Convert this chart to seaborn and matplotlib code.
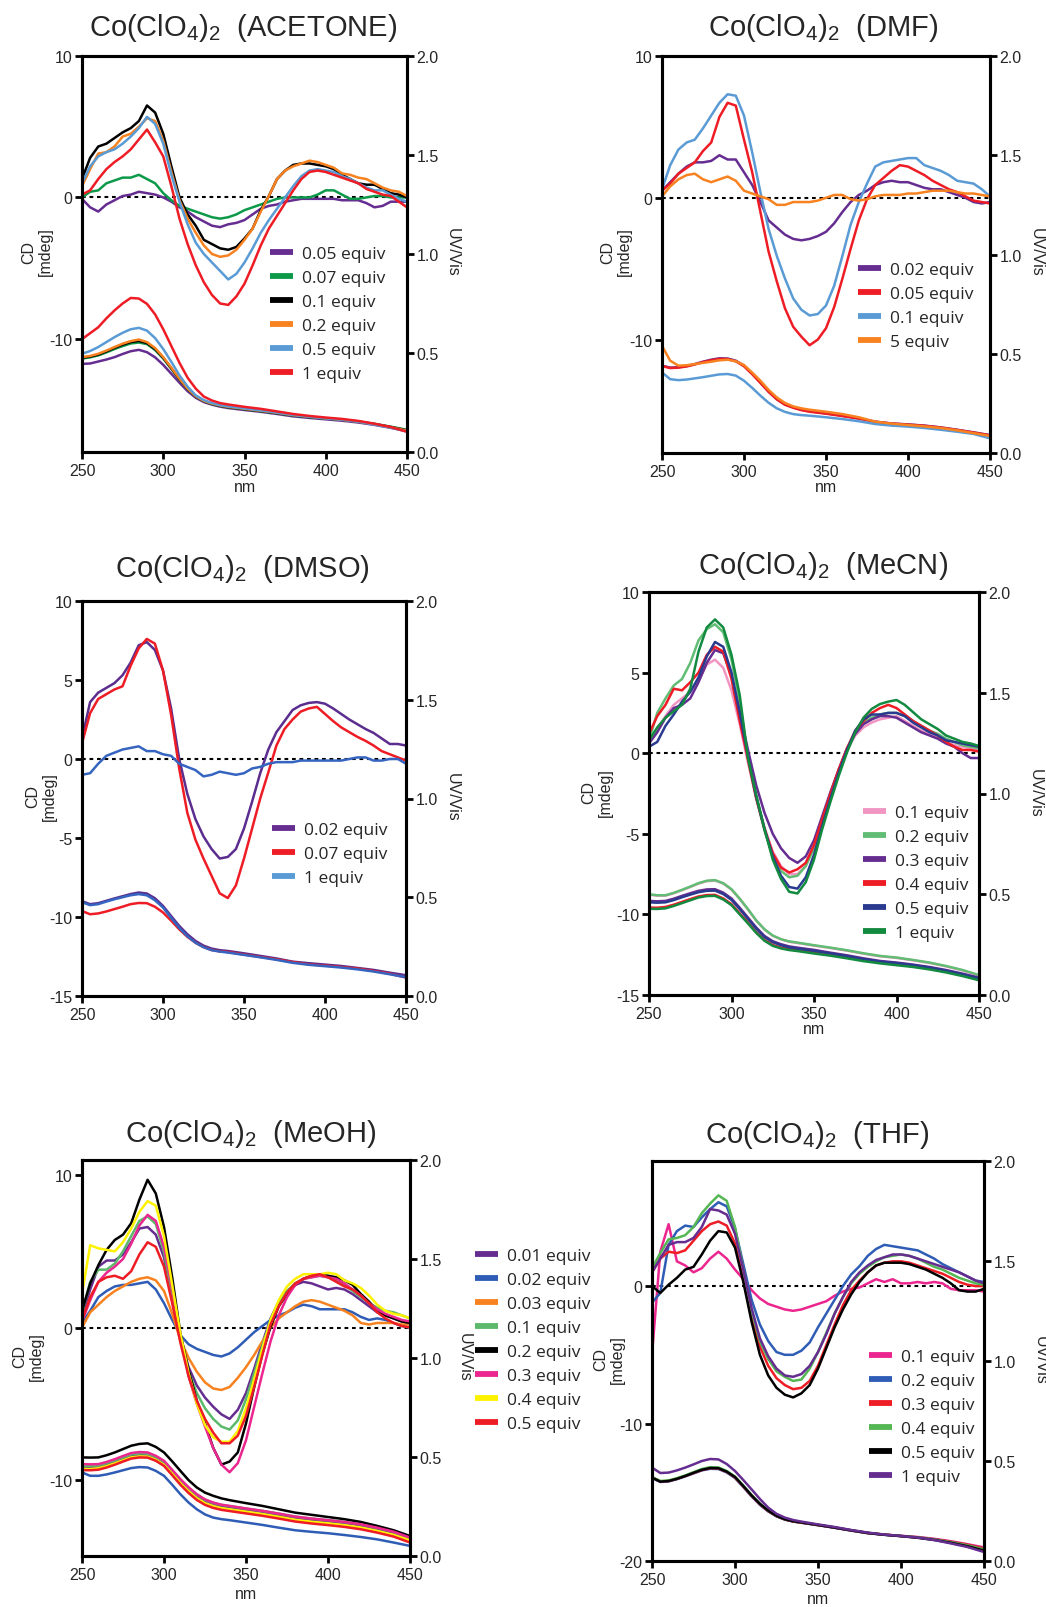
import numpy as np
import matplotlib
matplotlib.use("Agg")
import matplotlib.pyplot as plt
import seaborn as sns
from matplotlib.lines import Line2D

W, H = 1046, 1608
sns.set_style("ticks")
plt.rcParams['font.family'] = ['Liberation Sans', 'DejaVu Sans']
plt.rcParams['axes.unicode_minus'] = False
plt.rcParams['mathtext.fontset'] = 'custom'
plt.rcParams['mathtext.rm'] = 'Liberation Sans'
plt.rcParams['mathtext.default'] = 'regular'

# ---------------- wavelength grids ----------------
WL_CD = np.arange(250, 451, 5)
WL_UV = np.concatenate([np.arange(250, 341, 5), np.arange(350, 451, 10)])

# ---------------- ACETONE ----------------
AC_LABELS = ["0.05 equiv", "0.07 equiv", "0.1 equiv", "0.2 equiv", "0.5 equiv", "1 equiv"]
AC_CD_005 = [-0.1, -0.7, -1.0, -0.5, -0.2, 0.1, 0.2, 0.4, 0.3, 0.2,
             0.0, -0.3, -0.7, -1.0, -1.4, -1.7, -2.0, -2.1, -1.9, -1.8,
             -1.6, -1.2, -0.8, -0.6, -0.5, -0.3, -0.2, -0.1, -0.1, -0.1,
             -0.1, -0.1, -0.2, -0.2, -0.2, -0.4, -0.7, -0.6, -0.3, -0.3, -0.3]
AC_CD_007 = [0.0, 0.4, 0.5, 1.0, 1.2, 1.4, 1.4, 1.6, 1.3, 1.0,
             0.3, -0.2, -0.6, -0.8, -1.0, -1.2, -1.4, -1.5, -1.4, -1.2,
             -0.9, -0.7, -0.5, -0.3, -0.1, 0.0, 0.0, 0.0, 0.0, 0.2,
             0.5, 0.5, 0.2, -0.1, -0.1, 0.0, 0.1, 0.1, 0.0, 0.0, 0.0]
AC_CD_01 = [1.3, 2.8, 3.6, 3.8, 4.2, 4.6, 4.9, 5.4, 6.5, 6.0,
            4.5, 2.2, 0.0, -1.2, -2.0, -3.0, -3.3, -3.6, -3.7, -3.5,
            -2.9, -2.2, -0.9, 0.1, 1.3, 1.9, 2.3, 2.4, 2.4, 2.3,
            2.2, 2.0, 1.6, 1.3, 1.0, 0.9, 0.9, 0.6, 0.3, 0.2, 0.0]
AC_CD_02 = [0.8, 2.0, 3.1, 3.2, 3.6, 4.3, 4.5, 5.0, 5.6, 5.4,
            4.0, 1.8, -0.2, -1.5, -2.5, -3.4, -4.0, -4.2, -4.1, -3.7,
            -3.0, -2.2, -1.0, 0.1, 1.3, 1.9, 2.2, 2.4, 2.6, 2.5,
            2.3, 2.1, 1.7, 1.6, 1.4, 1.3, 1.0, 0.7, 0.5, 0.4, 0.1]
AC_CD_05 = [1.0, 2.2, 2.9, 3.2, 3.4, 3.8, 4.3, 4.9, 5.7, 5.2,
            3.8, 1.6, -0.3, -1.9, -3.2, -4.0, -4.6, -5.2, -5.8, -5.4,
            -4.6, -3.6, -2.5, -1.6, -0.8, 0.0, 0.8, 1.5, 1.9, 2.0,
            1.9, 1.8, 1.5, 1.3, 1.0, 0.7, 0.5, 0.5, 0.2, -0.1, -0.3]
AC_CD_1 = [0.2, 0.5, 1.3, 2.0, 2.5, 2.9, 3.4, 4.1, 4.8, 3.9,
           2.9, 0.8, -1.5, -3.3, -4.8, -6.0, -6.9, -7.5, -7.6, -7.0,
           -6.1, -4.8, -3.4, -2.2, -1.3, -0.4, 0.5, 1.3, 1.8, 1.9,
           1.8, 1.6, 1.4, 1.2, 1.0, 0.6, 0.4, 0.2, 0.1, -0.3, -0.7]
AC_UV_005 = [0.445, 0.447, 0.457, 0.467, 0.479, 0.495, 0.509, 0.516, 0.504, 0.478,
             0.44, 0.395, 0.35, 0.307, 0.274, 0.252, 0.239, 0.229, 0.222,
             0.212, 0.203, 0.192, 0.18, 0.172, 0.165, 0.158, 0.149, 0.137, 0.122, 0.106]
AC_UV_007 = [0.472, 0.478, 0.488, 0.503, 0.52, 0.535, 0.548, 0.553, 0.545, 0.515,
             0.472, 0.42, 0.366, 0.318, 0.28, 0.257, 0.242, 0.233, 0.226,
             0.216, 0.206, 0.196, 0.184, 0.176, 0.169, 0.163, 0.154, 0.142, 0.128, 0.112]
AC_UV_01 = [0.476, 0.482, 0.492, 0.508, 0.526, 0.542, 0.555, 0.561, 0.55, 0.52,
            0.476, 0.422, 0.368, 0.319, 0.281, 0.258, 0.243, 0.234, 0.227,
            0.217, 0.207, 0.197, 0.185, 0.177, 0.17, 0.163, 0.153, 0.141, 0.126, 0.109]
AC_UV_02 = [0.479, 0.485, 0.496, 0.512, 0.53, 0.547, 0.56, 0.568, 0.555, 0.525,
            0.479, 0.425, 0.37, 0.32, 0.282, 0.258, 0.244, 0.235, 0.228,
            0.218, 0.208, 0.198, 0.186, 0.178, 0.17, 0.163, 0.153, 0.14, 0.125, 0.108]
AC_UV_05 = [0.496, 0.51, 0.53, 0.555, 0.58, 0.602, 0.62, 0.627, 0.613, 0.575,
            0.52, 0.455, 0.387, 0.33, 0.286, 0.262, 0.247, 0.237, 0.23,
            0.22, 0.21, 0.199, 0.187, 0.178, 0.17, 0.163, 0.153, 0.139, 0.123, 0.103]
AC_UV_1 = [0.57, 0.6, 0.63, 0.675, 0.715, 0.75, 0.778, 0.775, 0.748, 0.695,
           0.62, 0.535, 0.45, 0.375, 0.32, 0.28, 0.26, 0.247, 0.24,
           0.228, 0.218, 0.205, 0.192, 0.182, 0.174, 0.167, 0.157, 0.143, 0.126, 0.102]

# ---------------- DMF ----------------
DMF_LABELS = ["0.02 equiv", "0.05 equiv", "0.1 equiv", "5 equiv"]
DMF_CD_002 = [0.5, 1.1, 1.7, 2.2, 2.5, 2.5, 2.6, 3.0, 2.7, 2.7,
              1.8, 0.9, -0.3, -1.6, -2.1, -2.6, -2.9, -3.0, -2.9, -2.7,
              -2.4, -1.8, -1.0, -0.3, 0.2, 0.5, 0.9, 1.1, 1.2, 1.1,
              1.1, 0.9, 0.7, 0.6, 0.6, 0.4, 0.2, 0.0, -0.3, -0.4, -0.3]
DMF_CD_005 = [0.5, 1.0, 1.7, 2.1, 2.5, 3.3, 3.9, 5.7, 6.7, 6.5,
              4.1, 1.8, -1.0, -3.8, -5.9, -7.8, -9.1, -9.8, -10.4, -10.0,
              -9.2, -7.7, -5.7, -3.6, -1.6, -0.1, 0.9, 1.4, 1.9, 2.3,
              2.2, 1.9, 1.6, 1.2, 0.9, 0.6, 0.4, 0.1, -0.2, -0.3, -0.4]
DMF_CD_01 = [0.6, 2.3, 3.4, 3.9, 4.1, 4.9, 5.8, 6.7, 7.3, 7.2,
             5.8, 3.2, 0.4, -2.2, -4.1, -5.7, -7.1, -7.9, -8.3, -8.2,
             -7.6, -6.2, -4.1, -1.9, -0.3, 1.0, 2.2, 2.5, 2.6, 2.7,
             2.8, 2.8, 2.3, 2.1, 1.9, 1.6, 1.2, 1.1, 1.0, 0.6, 0.1]
DMF_CD_5 = [0.1, 0.8, 1.3, 1.6, 1.7, 1.3, 1.1, 1.3, 1.5, 1.2,
            0.5, 0.3, 0.1, -0.1, -0.5, -0.5, -0.3, -0.3, -0.3, -0.2,
            0.0, 0.2, 0.2, -0.1, -0.2, -0.1, 0.1, 0.2, 0.2, 0.2,
            0.3, 0.3, 0.4, 0.5, 0.5, 0.5, 0.4, 0.3, 0.3, 0.2, 0.1]
DMF_UV_002 = [0.44, 0.43, 0.432, 0.438, 0.448, 0.46, 0.47, 0.477, 0.476, 0.465,
              0.44, 0.4, 0.356, 0.31, 0.272, 0.245, 0.23, 0.218, 0.21,
              0.2, 0.188, 0.175, 0.158, 0.149, 0.144, 0.138, 0.129, 0.117, 0.104, 0.09]
DMF_UV_005 = [0.438, 0.428, 0.43, 0.436, 0.446, 0.458, 0.467, 0.474, 0.473, 0.462,
              0.437, 0.397, 0.353, 0.308, 0.27, 0.243, 0.228, 0.216, 0.208,
              0.198, 0.186, 0.173, 0.157, 0.148, 0.143, 0.137, 0.128, 0.116, 0.103, 0.089]
DMF_UV_01 = [0.406, 0.372, 0.367, 0.37, 0.376, 0.382, 0.389, 0.396, 0.398, 0.39,
             0.364, 0.328, 0.289, 0.253, 0.225, 0.207, 0.196, 0.191, 0.188,
             0.18, 0.171, 0.16, 0.146, 0.138, 0.133, 0.126, 0.117, 0.107, 0.096, 0.074]
DMF_UV_5 = [0.54, 0.465, 0.44, 0.442, 0.448, 0.454, 0.46, 0.467, 0.47, 0.462,
            0.443, 0.405, 0.364, 0.318, 0.28, 0.252, 0.235, 0.225, 0.218,
            0.208, 0.196, 0.18, 0.158, 0.148, 0.141, 0.134, 0.126, 0.114, 0.1, 0.086]

# ---------------- DMSO ----------------
DMSO_LABELS = ["0.02 equiv", "0.07 equiv", "1 equiv"]
DMSO_CD_002 = [1.3, 3.6, 4.2, 4.5, 4.8, 5.3, 6.1, 7.2, 7.4, 6.9,
               5.6, 3.2, 0.0, -2.2, -3.8, -4.9, -5.7, -6.3, -6.2, -5.7,
               -4.4, -2.7, -0.9, 0.6, 1.7, 2.4, 3.1, 3.4, 3.55, 3.6,
               3.5, 3.2, 2.85, 2.5, 2.2, 1.9, 1.65, 1.3, 0.95, 0.95, 0.85]
DMSO_CD_007 = [1.0, 2.9, 3.8, 4.1, 4.4, 4.6, 5.9, 7.0, 7.6, 7.3,
               5.6, 2.8, -0.6, -3.4, -5.1, -6.3, -7.4, -8.5, -8.8, -8.0,
               -6.3, -4.4, -2.5, -0.85, 0.85, 1.9, 2.5, 3.0, 3.2, 3.3,
               2.85, 2.4, 2.0, 1.7, 1.4, 1.15, 0.85, 0.5, 0.3, 0.1, -0.1]
DMSO_CD_1 = [-1.0, -0.9, -0.3, 0.2, 0.4, 0.6, 0.7, 0.8, 0.5, 0.5,
             0.3, 0.2, -0.3, -0.5, -0.7, -1.1, -1.0, -0.8, -0.9, -1.0,
             -0.9, -0.6, -0.5, -0.3, -0.2, -0.2, -0.2, -0.1, -0.1, -0.1,
             -0.1, -0.1, -0.1, 0.0, 0.1, 0.1, -0.1, -0.1, 0.0, 0.0, -0.3]
DMSO_UV_002 = [0.48, 0.465, 0.47, 0.482, 0.494, 0.505, 0.516, 0.524, 0.519, 0.495,
               0.456, 0.405, 0.355, 0.313, 0.279, 0.255, 0.24, 0.232, 0.228,
               0.216, 0.203, 0.19, 0.174, 0.166, 0.159, 0.152, 0.142, 0.132, 0.118, 0.105]
DMSO_UV_007 = [0.43, 0.414, 0.418, 0.428, 0.44, 0.452, 0.465, 0.471, 0.47, 0.452,
               0.423, 0.382, 0.338, 0.3, 0.27, 0.248, 0.233, 0.226, 0.223,
               0.21, 0.198, 0.186, 0.172, 0.16, 0.154, 0.147, 0.139, 0.127, 0.113, 0.093]
DMSO_UV_1 = [0.475, 0.46, 0.465, 0.478, 0.49, 0.5, 0.51, 0.516, 0.51, 0.485,
             0.448, 0.396, 0.345, 0.303, 0.27, 0.247, 0.232, 0.225, 0.22,
             0.208, 0.196, 0.183, 0.168, 0.158, 0.151, 0.144, 0.135, 0.124, 0.11, 0.095]

# ---------------- MeCN ----------------
MECN_LABELS = ["0.1 equiv", "0.2 equiv", "0.3 equiv", "0.4 equiv", "0.5 equiv", "1 equiv"]
MECN_CD_01 = [0.8, 1.5, 2.3, 3.0, 3.4, 3.8, 4.5, 5.5, 5.8, 5.3,
              3.9, 1.8, -0.6, -2.8, -4.6, -6.1, -7.0, -7.5, -7.5, -7.0,
              -5.8, -4.1, -2.5, -1.1, 0.2, 1.1, 1.6, 1.9, 2.1, 2.2,
              2.3, 2.0, 1.7, 1.4, 1.2, 1.0, 0.7, 0.5, 0.4, 0.3, 0.2]
MECN_CD_02 = [0.8, 2.5, 3.4, 4.2, 4.6, 5.6, 7.0, 7.7, 8.0, 7.5,
              5.8, 3.2, -0.3, -2.8, -4.8, -6.4, -7.3, -7.7, -7.6, -7.0,
              -5.9, -4.2, -2.6, -1.1, 0.2, 1.3, 1.9, 2.2, 2.4, 2.5,
              2.5, 2.3, 2.0, 1.7, 1.4, 1.2, 0.9, 0.7, 0.5, 0.4, 0.3]
MECN_CD_03 = [0.6, 1.3, 2.2, 2.8, 3.0, 3.4, 4.4, 5.6, 6.4, 6.2,
              4.8, 2.5, 0.2, -2.0, -3.7, -5.0, -5.9, -6.5, -6.8, -6.4,
              -5.4, -3.9, -2.4, -1.0, 0.3, 1.2, 1.8, 2.1, 2.3, 2.3,
              2.2, 1.9, 1.6, 1.3, 1.1, 0.9, 0.6, 0.4, 0.0, -0.3, -0.3]
MECN_CD_04 = [1.2, 2.3, 3.0, 4.0, 3.9, 4.4, 5.0, 6.1, 6.6, 6.3,
              4.6, 2.0, -0.4, -2.8, -4.7, -6.2, -7.1, -7.4, -7.2, -6.8,
              -5.7, -4.1, -2.5, -1.0, 0.3, 1.4, 2.0, 2.5, 2.8, 3.0,
              2.8, 2.4, 2.0, 1.7, 1.4, 1.1, 0.7, 0.4, 0.2, 0.2, 0.1]
MECN_CD_05 = [0.4, 0.7, 1.7, 2.4, 3.2, 3.8, 4.7, 6.0, 6.9, 6.6,
              5.0, 2.5, -0.2, -2.7, -4.7, -6.4, -7.6, -8.3, -8.4, -7.7,
              -6.3, -4.5, -2.8, -1.2, 0.2, 1.4, 2.1, 2.4, 2.4, 2.5,
              2.5, 2.3, 1.9, 1.6, 1.3, 1.1, 0.8, 0.7, 0.6, 0.5, 0.4]
MECN_CD_1 = [0.8, 1.6, 2.2, 2.6, 3.0, 4.0, 6.3, 7.8, 8.3, 7.8,
             6.1, 3.6, -0.3, -2.6, -4.7, -6.6, -7.8, -8.6, -8.7, -8.0,
             -6.6, -4.7, -3.0, -1.4, 0.05, 1.3, 2.2, 2.75, 3.05, 3.2,
             3.3, 3.0, 2.55, 2.1, 1.8, 1.5, 1.1, 0.9, 0.7, 0.6, 0.45]
MECN_UV_01 = [0.498, 0.493, 0.493, 0.505, 0.52, 0.536, 0.553, 0.565, 0.568, 0.553,
              0.523, 0.476, 0.424, 0.369, 0.325, 0.294, 0.276, 0.264, 0.258,
              0.245, 0.233, 0.22, 0.205, 0.192, 0.184, 0.172, 0.159, 0.142, 0.122, 0.097]
MECN_UV_02 = [0.5, 0.495, 0.495, 0.507, 0.522, 0.538, 0.555, 0.567, 0.57, 0.555,
              0.525, 0.478, 0.426, 0.37, 0.326, 0.295, 0.277, 0.266, 0.26,
              0.247, 0.235, 0.222, 0.207, 0.194, 0.186, 0.174, 0.161, 0.144, 0.124, 0.099]
MECN_UV_03 = [0.467, 0.465, 0.467, 0.478, 0.492, 0.505, 0.517, 0.524, 0.525, 0.508,
              0.479, 0.433, 0.384, 0.335, 0.293, 0.267, 0.252, 0.241, 0.235,
              0.224, 0.21, 0.197, 0.182, 0.169, 0.161, 0.151, 0.139, 0.124, 0.106, 0.086]
MECN_UV_04 = [0.434, 0.433, 0.437, 0.448, 0.462, 0.476, 0.489, 0.496, 0.497, 0.479,
              0.451, 0.405, 0.36, 0.312, 0.273, 0.248, 0.235, 0.227, 0.222,
              0.21, 0.199, 0.186, 0.172, 0.161, 0.152, 0.143, 0.131, 0.116, 0.098, 0.078]
MECN_UV_05 = [0.46, 0.458, 0.46, 0.471, 0.485, 0.498, 0.51, 0.517, 0.518, 0.501,
              0.472, 0.426, 0.378, 0.33, 0.288, 0.262, 0.247, 0.236, 0.23,
              0.219, 0.206, 0.193, 0.178, 0.166, 0.158, 0.148, 0.136, 0.121, 0.103, 0.083]
MECN_UV_1 = [0.428, 0.427, 0.43, 0.442, 0.456, 0.47, 0.484, 0.491, 0.492, 0.474,
             0.446, 0.4, 0.355, 0.308, 0.269, 0.244, 0.231, 0.223, 0.218,
             0.206, 0.195, 0.182, 0.168, 0.157, 0.148, 0.139, 0.127, 0.112, 0.094, 0.073]

# ---------------- MeOH ----------------
MEOH_LABELS = ["0.01 equiv", "0.02 equiv", "0.03 equiv", "0.1 equiv",
               "0.2 equiv", "0.3 equiv", "0.4 equiv", "0.5 equiv"]
MEOH_CD_001 = [0.8, 2.5, 4.0, 4.4, 4.4, 4.8, 5.6, 6.5, 6.6, 6.1,
               4.6, 1.8, -0.8, -2.6, -3.8, -4.6, -5.2, -5.7, -6.0, -5.4,
               -4.3, -2.7, -1.0, 0.6, 1.7, 2.4, 2.8, 3.0, 2.9, 2.7,
               2.5, 2.6, 2.5, 2.2, 1.8, 1.4, 1.0, 0.8, 0.6, 0.4, 0.3]
MEOH_CD_002 = [0.3, 1.1, 2.0, 2.4, 2.7, 2.8, 2.8, 2.9, 3.0, 2.5,
               1.6, 0.5, -0.5, -1.1, -1.4, -1.6, -1.8, -1.9, -1.7, -1.3,
               -0.8, -0.3, 0.1, 0.5, 0.8, 1.0, 1.3, 1.5, 1.4, 1.2,
               1.2, 1.2, 1.2, 1.0, 0.7, 0.5, 0.6, 0.5, 0.3, 0.1, 0.0]
MEOH_CD_003 = [0.0, 1.0, 1.5, 2.0, 2.4, 2.7, 3.0, 3.2, 3.3, 3.1,
               2.4, 0.9, -0.8, -2.0, -2.9, -3.6, -4.0, -4.1, -3.9, -3.3,
               -2.6, -1.8, -0.9, 0.0, 0.6, 1.0, 1.4, 1.7, 1.8, 1.7,
               1.5, 1.3, 1.1, 0.8, 0.3, 0.2, 0.3, 0.3, 0.3, 0.2, 0.2]
MEOH_CD_01 = [1.0, 3.0, 3.8, 3.8, 4.2, 5.0, 6.0, 7.0, 7.3, 6.8,
              5.0, 2.0, -0.8, -2.9, -4.3, -5.3, -6.0, -6.5, -6.7, -6.1,
              -4.7, -3.0, -1.2, 0.5, 1.6, 2.4, 2.9, 3.2, 3.3, 3.4,
              3.3, 3.1, 2.8, 2.4, 2.0, 1.6, 1.3, 1.1, 1.0, 0.8, 0.6]
MEOH_CD_02 = [1.1, 2.9, 4.1, 5.1, 5.75, 6.1, 6.85, 8.4, 9.7, 8.8,
              6.6, 3.3, -0.4, -2.8, -4.8, -6.3, -7.9, -9.0, -8.8, -8.2,
              -6.3, -3.9, -1.7, 0.05, 1.4, 2.2, 2.8, 3.2, 3.4, 3.5,
              3.4, 3.3, 3.1, 2.8, 2.2, 1.7, 1.1, 0.8, 0.6, 0.4, 0.3]
MEOH_CD_03 = [0.4, 1.8, 3.0, 3.6, 4.0, 4.5, 5.5, 6.7, 7.4, 7.0,
              5.3, 2.5, -0.6, -3.2, -5.0, -6.5, -7.9, -9.0, -9.5, -8.9,
              -7.4, -5.2, -3.0, -0.9, 0.8, 2.0, 2.8, 3.2, 3.3, 3.4,
              3.3, 3.2, 2.9, 2.5, 2.1, 1.6, 1.2, 0.9, 0.7, 0.5, 0.4]
MEOH_CD_04 = [2.2, 5.4, 5.2, 5.1, 5.0, 5.6, 6.5, 7.6, 8.3, 8.0,
              6.0, 2.8, -0.4, -3.0, -5.0, -6.4, -7.2, -7.5, -7.5, -6.8,
              -5.3, -3.4, -1.4, 0.5, 1.8, 2.7, 3.2, 3.5, 3.5, 3.5,
              3.6, 3.5, 3.1, 2.9, 2.6, 2.1, 1.5, 1.1, 0.9, 0.8, 0.6]
MEOH_CD_05 = [0.5, 2.0, 3.0, 3.3, 3.4, 3.2, 3.7, 4.8, 5.6, 5.3,
              4.0, 1.6, -1.0, -3.2, -4.8, -6.0, -6.9, -7.6, -7.6, -7.1,
              -5.8, -3.9, -1.8, 0.2, 1.4, 2.3, 2.9, 3.2, 3.4, 3.5,
              3.3, 3.0, 2.7, 2.5, 2.1, 1.6, 1.0, 0.6, 0.3, 0.1, 0.0]
MEOH_UV_001 = [0.447, 0.446, 0.45, 0.461, 0.475, 0.49, 0.505, 0.51, 0.508, 0.492,
               0.467, 0.423, 0.375, 0.334, 0.3, 0.275, 0.26, 0.25, 0.244,
               0.232, 0.22, 0.206, 0.191, 0.181, 0.173, 0.164, 0.152, 0.135, 0.115, 0.086]
MEOH_UV_002 = [0.422, 0.405, 0.405, 0.412, 0.422, 0.433, 0.444, 0.449, 0.447, 0.43,
               0.405, 0.36, 0.312, 0.27, 0.236, 0.21, 0.194, 0.186, 0.181,
               0.169, 0.157, 0.143, 0.13, 0.122, 0.115, 0.106, 0.096, 0.084, 0.068, 0.051]
MEOH_UV_003 = [0.437, 0.436, 0.44, 0.451, 0.465, 0.48, 0.495, 0.5, 0.499, 0.483,
               0.457, 0.412, 0.364, 0.322, 0.288, 0.263, 0.248, 0.238, 0.232,
               0.22, 0.208, 0.194, 0.179, 0.169, 0.161, 0.152, 0.14, 0.123, 0.103, 0.075]
MEOH_UV_01 = [0.455, 0.454, 0.457, 0.469, 0.483, 0.498, 0.513, 0.518, 0.517, 0.5,
              0.476, 0.432, 0.385, 0.344, 0.31, 0.284, 0.268, 0.258, 0.252,
              0.24, 0.228, 0.214, 0.199, 0.189, 0.181, 0.172, 0.16, 0.143, 0.123, 0.094]
MEOH_UV_02 = [0.498, 0.497, 0.498, 0.509, 0.523, 0.54, 0.557, 0.566, 0.569, 0.551,
              0.523, 0.478, 0.43, 0.383, 0.346, 0.32, 0.304, 0.291, 0.282,
              0.267, 0.253, 0.236, 0.219, 0.208, 0.197, 0.186, 0.172, 0.152, 0.13, 0.101]
MEOH_UV_03 = [0.464, 0.463, 0.464, 0.475, 0.489, 0.505, 0.52, 0.525, 0.523, 0.506,
              0.481, 0.435, 0.388, 0.347, 0.312, 0.286, 0.27, 0.259, 0.253,
              0.24, 0.228, 0.214, 0.199, 0.189, 0.181, 0.172, 0.16, 0.143, 0.123, 0.093]
MEOH_UV_04 = [0.44, 0.439, 0.443, 0.454, 0.468, 0.483, 0.498, 0.503, 0.502, 0.486,
              0.46, 0.415, 0.368, 0.327, 0.292, 0.267, 0.252, 0.242, 0.236,
              0.224, 0.212, 0.198, 0.183, 0.173, 0.165, 0.156, 0.144, 0.127, 0.107, 0.079]
MEOH_UV_05 = [0.434, 0.433, 0.436, 0.447, 0.461, 0.477, 0.492, 0.498, 0.497, 0.481,
              0.455, 0.408, 0.36, 0.318, 0.283, 0.258, 0.243, 0.233, 0.227,
              0.215, 0.203, 0.189, 0.174, 0.164, 0.156, 0.147, 0.135, 0.118, 0.098, 0.068]

# ---------------- THF ----------------
THF_LABELS = ["0.1 equiv", "0.2 equiv", "0.3 equiv", "0.4 equiv", "0.5 equiv", "1 equiv"]
THF_CD_01 = [-5.0, 2.5, 4.5, 1.8, 1.5, 1.0, 1.3, 2.0, 2.5, 2.0,
             1.2, 0.5, -0.3, -0.9, -1.3, -1.5, -1.7, -1.8, -1.7, -1.5,
             -1.3, -1.1, -0.7, -0.4, -0.2, -0.1, 0.2, 0.5, 0.3, 0.5,
             0.2, 0.2, 0.3, 0.2, 0.3, 0.2, -0.2, -0.3, -0.3, -0.3, -0.4]
THF_CD_02 = [-1.2, -0.5, 3.0, 4.0, 4.4, 4.3, 5.0, 5.6, 6.1, 5.8,
             4.2, 1.6, -1.0, -2.8, -4.0, -4.8, -5.0, -5.0, -4.7, -4.1,
             -3.0, -2.0, -1.0, 0.0, 0.85, 1.45, 2.2, 2.7, 3.0, 2.9,
             2.8, 2.7, 2.6, 2.3, 2.0, 1.6, 1.3, 1.0, 0.7, 0.4, 0.3]
THF_CD_03 = [1.0, 2.0, 2.5, 2.4, 2.6, 3.3, 4.0, 4.5, 4.7, 4.4,
             3.1, 0.5, -2.2, -4.4, -5.8, -6.7, -7.2, -7.5, -7.4, -6.9,
             -5.8, -4.3, -2.8, -1.4, -0.3, 0.4, 1.0, 1.5, 1.7, 1.8,
             1.8, 1.7, 1.5, 1.3, 1.1, 0.9, 0.6, 0.3, 0.1, 0.0, 0.0]
THF_CD_04 = [1.3, 2.4, 3.4, 3.5, 3.7, 4.3, 5.3, 6.0, 6.6, 6.2,
             4.3, 1.2, -1.8, -4.0, -5.3, -6.2, -6.6, -6.9, -6.8, -6.0,
             -4.8, -3.4, -2.0, -0.8, 0.2, 0.9, 1.4, 1.8, 2.1, 2.2,
             2.3, 2.2, 2.0, 1.7, 1.4, 1.2, 0.9, 0.6, 0.4, 0.2, 0.1]
THF_CD_05 = [0.0, -0.5, 0.1, 0.6, 1.2, 1.4, 2.3, 3.3, 4.0, 3.9,
             2.8, 0.3, -2.6, -5.0, -6.5, -7.4, -7.9, -8.1, -7.8, -7.2,
             -6.0, -4.5, -3.0, -1.7, -0.6, 0.3, 1.0, 1.5, 1.7, 1.7,
             1.7, 1.6, 1.4, 1.2, 0.9, 0.6, 0.2, -0.3, -0.4, -0.4, -0.2]
THF_CD_1 = [1.0, 2.0, 3.0, 3.2, 3.2, 3.5, 4.3, 5.6, 5.5, 5.2,
            3.8, 1.2, -1.6, -3.8, -5.1, -6.0, -6.5, -6.6, -6.4, -5.8,
            -4.8, -3.5, -2.0, -0.8, 0.3, 1.0, 1.5, 1.9, 2.1, 2.3,
            2.3, 2.2, 2.0, 1.8, 1.6, 1.4, 1.2, 1.0, 0.7, 0.4, 0.2]
THF_UV_01 = [0.417, 0.397, 0.4, 0.411, 0.425, 0.44, 0.455, 0.463, 0.462, 0.445,
             0.417, 0.372, 0.325, 0.283, 0.25, 0.225, 0.208, 0.198, 0.192,
             0.18, 0.167, 0.153, 0.14, 0.132, 0.126, 0.12, 0.111, 0.099, 0.084, 0.068]
THF_UV_02 = [0.415, 0.395, 0.398, 0.409, 0.423, 0.438, 0.453, 0.461, 0.46, 0.443,
             0.415, 0.37, 0.323, 0.281, 0.248, 0.223, 0.207, 0.197, 0.191,
             0.179, 0.166, 0.152, 0.139, 0.131, 0.125, 0.118, 0.108, 0.095, 0.08, 0.062]
THF_UV_03 = [0.418, 0.398, 0.4, 0.411, 0.425, 0.44, 0.455, 0.464, 0.463, 0.446,
             0.418, 0.373, 0.326, 0.284, 0.25, 0.225, 0.208, 0.198, 0.192,
             0.18, 0.167, 0.153, 0.14, 0.132, 0.125, 0.118, 0.108, 0.096, 0.081, 0.062]
THF_UV_04 = [0.42, 0.4, 0.403, 0.414, 0.428, 0.444, 0.46, 0.469, 0.468, 0.45,
             0.422, 0.377, 0.33, 0.287, 0.253, 0.227, 0.21, 0.2, 0.194,
             0.181, 0.168, 0.154, 0.141, 0.132, 0.125, 0.118, 0.107, 0.094, 0.078, 0.058]
THF_UV_05 = [0.417, 0.397, 0.4, 0.411, 0.425, 0.441, 0.456, 0.465, 0.464, 0.447,
             0.42, 0.375, 0.328, 0.286, 0.252, 0.226, 0.209, 0.199, 0.193,
             0.18, 0.167, 0.153, 0.14, 0.131, 0.124, 0.116, 0.105, 0.091, 0.074, 0.052]
THF_UV_1 = [0.467, 0.44, 0.442, 0.453, 0.467, 0.483, 0.5, 0.51, 0.508, 0.485,
            0.45, 0.405, 0.358, 0.31, 0.267, 0.236, 0.217, 0.205, 0.197,
            0.183, 0.17, 0.155, 0.142, 0.132, 0.125, 0.117, 0.105, 0.088, 0.07, 0.045]

# ---------------- colours ----------------
PURPLE = '#662d91'
GREEN = '#0c9a4a'
BLACK = '#000000'
ORANGE = '#f7821f'
LBLUE = '#5a9bd5'
RED = '#ee1c25'
PINK_L = '#f195c3'
LGREEN = '#62bd74'
NAVY = '#2a3a8f'
DGREEN = '#128a3f'
BLUE = '#2f5db5'
GREEN_M = '#5cb96b'
PINK = '#ec268f'
YELLOW = '#fff200'
GREEN_T = '#55b654'
DMSO_PURPLE = '#5b2d8e'
DMSO_BLUE = '#3565c0'

fig = plt.figure(figsize=(W / 100, H / 100), dpi=100)
fig.patch.set_facecolor('white')

TICK_FS = 11.5
LAB_FS = 11.5
LEG_FS = 12.5
LW = 1.8


def px_axes(l, t, r, b):
    return fig.add_axes([l / W, 1 - b / H, (r - l) / W, (b - t) / H])


def fx(x):
    return x / W


def fy(y):
    return 1 - y / H


def panel(box, cds, uvs, labels, colors, ylim, yticks, title, title_xy,
          leg_xy, cd_xy, uv_xy, nm_y=None, leg_colors=None):
    ax = px_axes(*box)
    ax.set_facecolor('none')
    ax.axhline(0, color='black', lw=1.5, ls=(0, (1.8, 1.8)), zorder=1)
    for vals, c in zip(cds, colors):
        sns.lineplot(x=WL_CD, y=vals, ax=ax, color=c, lw=LW, zorder=3)
    ax.set_xlim(250, 450)
    ax.set_ylim(*ylim)
    ax.set_xticks([250, 300, 350, 400, 450])
    ax.set_yticks(yticks)
    ax.set_yticklabels([f"{v:g}" for v in yticks])
    ax.set_xlabel('')
    ax.set_ylabel('')
    ax2 = ax.twinx()
    for vals, c in zip(uvs, colors):
        sns.lineplot(x=WL_UV, y=vals, ax=ax2, color=c, lw=LW)
    ax2.set_ylim(0, 2)
    ax2.set_yticks([0, 0.5, 1.0, 1.5, 2.0])
    ax2.set_yticklabels(['0.0', '0.5', '1.0', '1.5', '2.0'])
    ax2.set_ylabel('')
    ax2.set_xlim(250, 450)
    for a in (ax, ax2):
        for s in a.spines.values():
            s.set_linewidth(2.2)
            s.set_color('black')
            s.set_visible(True)
        a.tick_params(width=2.0, length=5, labelsize=TICK_FS, color='black', pad=2)
    ax.tick_params(axis='x', pad=3)
    ax.tick_params(right=False, top=False)
    ax2.tick_params(left=False, right=True, top=False, bottom=False)
    # legend
    lc = leg_colors if leg_colors is not None else colors
    handles = [Line2D([0], [0], color=c, lw=4.2, solid_capstyle='butt') for c in lc]
    ax2.legend(handles, labels, loc='upper left',
               bbox_to_anchor=(fx(leg_xy[0]), fy(leg_xy[1])),
               bbox_transform=fig.transFigure, frameon=False,
               prop={'family': 'Open Sans', 'size': LEG_FS},
               handlelength=1.35, handletextpad=0.5, labelspacing=0.45,
               borderpad=0, borderaxespad=0)
    # texts
    fig.text(fx(title_xy[0]), fy(title_xy[1]), title, ha='center', va='center', fontsize=21)
    fig.text(fx(cd_xy[0]), fy(cd_xy[1]), "CD\n[mdeg]", rotation=90, ha='center',
             va='center', fontsize=LAB_FS, linespacing=1.15, multialignment='center')
    fig.text(fx(uv_xy[0]), fy(uv_xy[1]), "UV/Vis", rotation=270, ha='center',
             va='center', fontsize=LAB_FS)
    if nm_y is not None:
        fig.text(fx((box[0] + box[2]) / 2), fy(nm_y), "nm", ha='center', va='center',
                 fontsize=LAB_FS)
    return ax, ax2


TITLE = "Co(ClO$_4$)$_2$  ({})"

panel((82, 57, 407, 453),
      [AC_CD_005, AC_CD_007, AC_CD_01, AC_CD_02, AC_CD_05, AC_CD_1],
      [AC_UV_005, AC_UV_007, AC_UV_01, AC_UV_02, AC_UV_05, AC_UV_1],
      AC_LABELS, [PURPLE, GREEN, BLACK, ORANGE, LBLUE, RED],
      (-18, 10), [10, 0, -10], TITLE.format("ACETONE"), (243, 28),
      (270, 247), (37, 252), (452, 252), nm_y=487)

panel((662, 57, 990, 454),
      [DMF_CD_002, DMF_CD_005, DMF_CD_01, DMF_CD_5],
      [DMF_UV_002, DMF_UV_005, DMF_UV_01, DMF_UV_5],
      DMF_LABELS, [PURPLE, RED, LBLUE, ORANGE],
      (-18, 10), [10, 0, -10], TITLE.format("DMF"), (823, 28),
      (858, 263), (616, 252), (1036, 252), nm_y=488)

panel((82, 602, 406, 997),
      [DMSO_CD_002, DMSO_CD_007, DMSO_CD_1],
      [DMSO_UV_002, DMSO_UV_007, DMSO_UV_1],
      DMSO_LABELS, [DMSO_PURPLE, RED, DMSO_BLUE],
      (-15, 10), [10, 5, 0, -5, -10, -15], TITLE.format("DMSO"), (242, 569),
      (272, 823), (41, 797), (452, 797), nm_y=None,
      leg_colors=[PURPLE, RED, LBLUE])

panel((649, 593, 979, 996),
      [MECN_CD_01, MECN_CD_02, MECN_CD_03, MECN_CD_04, MECN_CD_05, MECN_CD_1],
      [MECN_UV_01, MECN_UV_02, MECN_UV_03, MECN_UV_04, MECN_UV_05, MECN_UV_1],
      MECN_LABELS, [PINK_L, LGREEN, PURPLE, RED, NAVY, DGREEN],
      (-15, 10), [10, 5, 0, -5, -10, -15], TITLE.format("MeCN"), (823, 566),
      (863, 806), (597, 793), (1035, 793), nm_y=1029)

panel((82, 1161, 410, 1557),
      [MEOH_CD_001, MEOH_CD_002, MEOH_CD_003, MEOH_CD_01,
       MEOH_CD_02, MEOH_CD_03, MEOH_CD_04, MEOH_CD_05],
      [MEOH_UV_001, MEOH_UV_002, MEOH_UV_003, MEOH_UV_01,
       MEOH_UV_02, MEOH_UV_03, MEOH_UV_04, MEOH_UV_05],
      MEOH_LABELS, [PURPLE, BLUE, ORANGE, GREEN_M, BLACK, PINK, YELLOW, RED],
      (-15, 11), [10, 0, -10], TITLE.format("MeOH"), (251, 1134),
      (475, 1249), (28, 1357), (464, 1357), nm_y=1595)

panel((652, 1162, 984, 1562),
      [THF_CD_01, THF_CD_02, THF_CD_03, THF_CD_04, THF_CD_05, THF_CD_1],
      [THF_UV_01, THF_UV_02, THF_UV_03, THF_UV_04, THF_UV_05, THF_UV_1],
      THF_LABELS, [PINK, BLUE, RED, GREEN_T, BLACK, PURPLE],
      (-20, 9.1), [0, -10, -20], TITLE.format("THF"), (817, 1135),
      (869, 1350), (609, 1360), (1040, 1360), nm_y=1600)

fig.savefig("out.png", dpi=100, facecolor='white')
